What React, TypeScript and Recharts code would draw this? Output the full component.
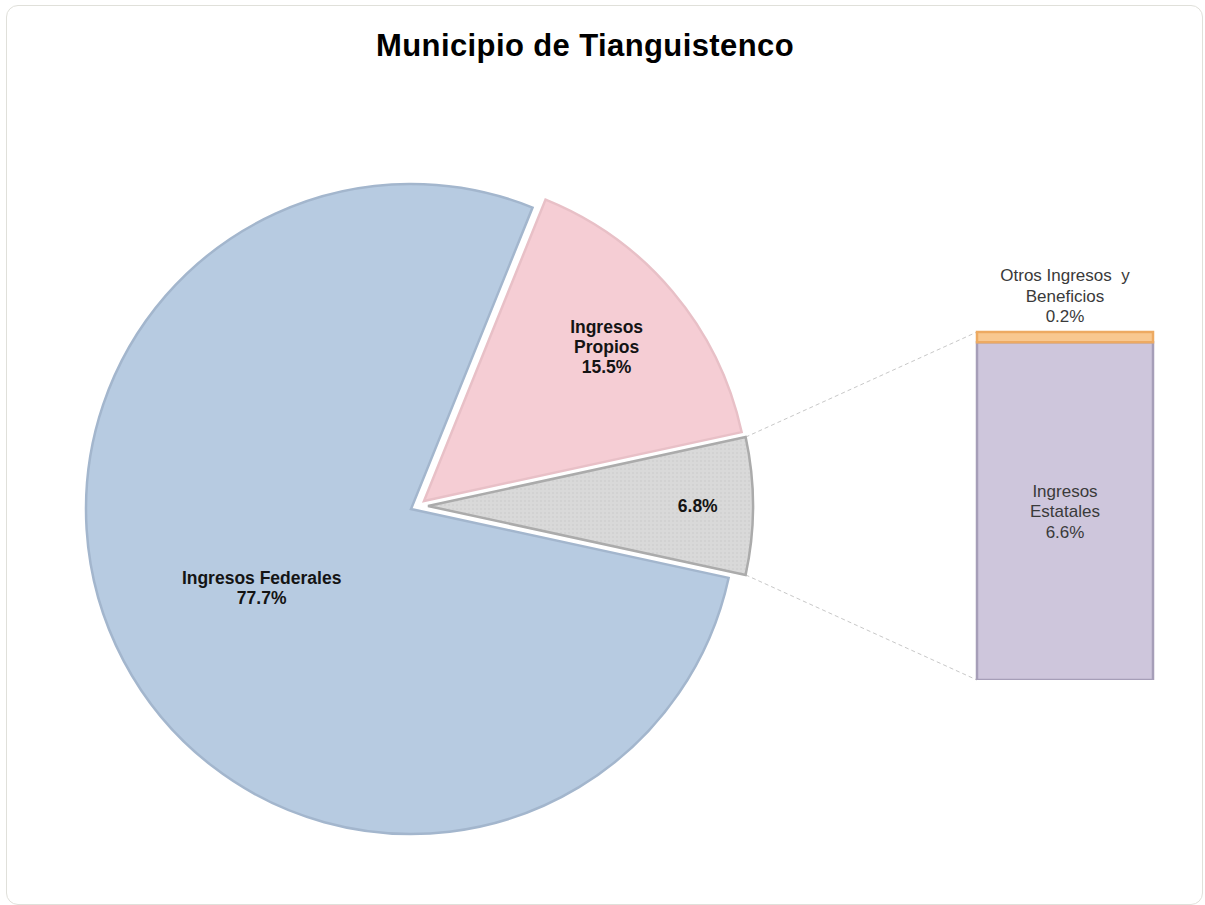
import React from 'react';
import { PieChart, Pie, Cell, BarChart, Bar, XAxis, YAxis, LabelList } from 'recharts';

// main pie: secondary (bar) slice first so it sits centred on the right
const pieNames = ['Ingresos Estatales y Otros', 'Ingresos Propios', 'Ingresos Federales'];
const pieValues = [6.8, 15.5, 77.7];
const pieLabelLines = [[], ['Ingresos', 'Propios'], ['Ingresos Federales']];

// breakdown bar of the secondary slice (bottom to top)
const barNames = ['Ingresos Estatales', 'Otros Ingresos  y Beneficios'];
const barValues = [6.6, 0.2];
const barLabelLines = [['Ingresos', 'Estatales'], ['Otros Ingresos  y', 'Beneficios']];

const TITLE = 'Municipio de Tianguistenco';

const W = 1205;
const H = 905;
const R = 325;
// each slice drawn around its own (exploded) centre
const CENTERS = [
  { x: 428, y: 506 },
  { x: 424, y: 501 },
  { x: 411, y: 509 },
];
const LABEL_RADIUS = [0.83, 0.735, 0.52];
const FILLS = ['url(#grayDots) #D9D9D9', '#F5CDD4', '#B7CBE1'];
const STROKES = ['#ABABAB', '#E8C0C7', '#A3B6CD'];

const BAR_BOX = { left: 940, top: 262, width: 250, height: 418, margin: { top: 70, right: 37, bottom: 0, left: 37 } };
const BAR_FILLS = ['#CEC6DC', '#F8C890'];
const BAR_STROKES = ['#A69EB8', '#EDAA62'];

const RAD = Math.PI / 180;
const pieData = pieNames.map((name, i) => ({ name, value: pieValues[i] }));
const pieTotal = pieValues.reduce((a, b) => a + b, 0);
const halfAngle = (pieValues[0] / pieTotal) * 180;
const START = -halfAngle;

const barRow: Record<string, string | number> = { name: 'Secundario' };
barNames.forEach((n, i) => {
  barRow[`s${i}`] = barValues[i];
});
const barData = [barRow];
const barTotal = barValues.reduce((a, b) => a + b, 0);

const fmt = (v: number) => `${v.toFixed(1)}%`;

function makePieLabel(k: number) {
  return (p: any) => {
    if (p.index !== k) return null;
    const cx = p.cx ?? CENTERS[k].x;
    const cy = p.cy ?? CENTERS[k].y;
    const r = (p.outerRadius ?? R) * LABEL_RADIUS[k];
    const x = cx + r * Math.cos(-p.midAngle * RAD);
    const y = cy + r * Math.sin(-p.midAngle * RAD);
    const lines = [...pieLabelLines[k], fmt(pieValues[k])];
    const lh = 20;
    const y0 = y - ((lines.length - 1) * lh) / 2;
    return (
      <text
        key={`pl-${k}`}
        x={x}
        y={y0}
        textAnchor="middle"
        dominantBaseline="central"
        fill="#141414"
        fontFamily="'Liberation Sans', Arial, sans-serif"
        fontWeight="bold"
        fontSize={17.5}
      >
        {lines.map((t, j) => (
          <tspan key={j} x={x} y={y0 + j * lh}>
            {t}
          </tspan>
        ))}
      </text>
    );
  };
}

function makeBarLabel(i: number) {
  return (p: any) => {
    const x = Number(p.x) + Number(p.width) / 2;
    const lines = [...barLabelLines[i], fmt(barValues[i])];
    const lh = 20.5;
    const y0 = i === 0 ? Number(p.y) + Number(p.height) / 2 - lh : Number(p.y) - 57;
    return (
      <text
        x={x}
        y={y0}
        textAnchor="middle"
        dominantBaseline="central"
        fill="#3A3A3A"
        fontFamily="'Liberation Sans', Arial, sans-serif"
        fontSize={17}
        style={{ whiteSpace: 'pre' }}
      >
        {lines.map((t, j) => (
          <tspan key={j} x={x} y={y0 + j * lh}>
            {t}
          </tspan>
        ))}
      </text>
    );
  };
}

export default function App() {
  const g = CENTERS[0];
  const cornerTop = { x: g.x + R * Math.cos(halfAngle * RAD), y: g.y - R * Math.sin(halfAngle * RAD) };
  const cornerBot = { x: g.x + R * Math.cos(halfAngle * RAD), y: g.y + R * Math.sin(halfAngle * RAD) };
  const barLeft = BAR_BOX.left + BAR_BOX.margin.left;
  const barTop = BAR_BOX.top + BAR_BOX.margin.top;
  const barBottom = BAR_BOX.top + BAR_BOX.height - BAR_BOX.margin.bottom;

  return (
    <div style={{ position: 'absolute', left: 0, top: 0, width: W, height: H, background: '#fff', overflow: 'hidden' }}>
      <div
        style={{
          position: 'absolute',
          left: 6,
          top: 5,
          width: 1197,
          height: 900,
          border: '1px solid #E0E0DA',
          borderRadius: 12,
          boxSizing: 'border-box',
        }}
      />
      <svg width={W} height={H} style={{ position: 'absolute', left: 0, top: 0 }}>
        <defs>
          <pattern id="grayDots" width="4" height="4" patternUnits="userSpaceOnUse">
            <rect width="4" height="4" fill="#D9D9D9" />
            <circle cx="1" cy="1" r="0.7" fill="#C6C6C6" />
          </pattern>
        </defs>
        <text
          x={585}
          y={45}
          textAnchor="middle"
          dominantBaseline="central"
          fontFamily="'Liberation Sans', Arial, sans-serif"
          fontWeight="bold"
          fontSize={31}
          letterSpacing={0.4}
          fill="#000"
        >
          {TITLE}
        </text>
        <line x1={cornerTop.x} y1={cornerTop.y} x2={barLeft} y2={barTop} stroke="#C8C8C8" strokeDasharray="4 3" />
        <line x1={cornerBot.x} y1={cornerBot.y} x2={barLeft} y2={barBottom} stroke="#C8C8C8" strokeDasharray="4 3" />
      </svg>
      <div style={{ position: 'absolute', left: 0, top: 0 }}>
        <PieChart width={W} height={H} margin={{ top: 0, right: 0, bottom: 0, left: 0 }}>
          {pieNames.map((_, k) => (
            <Pie
              key={k}
              data={pieData}
              dataKey="value"
              nameKey="name"
              cx={CENTERS[k].x}
              cy={CENTERS[k].y}
              outerRadius={R}
              startAngle={START}
              endAngle={START + 360}
              isAnimationActive={false}
              labelLine={false}
              label={makePieLabel(k)}
            >
              {pieData.map((_d, i) => (
                <Cell
                  key={i}
                  fill={i === k ? FILLS[i] : 'transparent'}
                  stroke={i === k ? STROKES[i] : 'none'}
                  strokeWidth={i === k ? 2.5 : 0}
                />
              ))}
            </Pie>
          ))}
        </PieChart>
      </div>
      <div style={{ position: 'absolute', left: BAR_BOX.left, top: BAR_BOX.top }}>
        <BarChart
          width={BAR_BOX.width}
          height={BAR_BOX.height}
          data={barData}
          margin={BAR_BOX.margin}
          barCategoryGap={0}
        >
          <XAxis dataKey="name" hide />
          <YAxis hide domain={[0, barTotal]} />
          {barNames.map((n, i) => (
            <Bar
              key={n}
              dataKey={`s${i}`}
              name={n}
              stackId="a"
              fill={BAR_FILLS[i]}
              stroke={BAR_STROKES[i]}
              strokeWidth={2.5}
              isAnimationActive={false}
            >
              <LabelList dataKey={`s${i}`} content={makeBarLabel(i)} />
            </Bar>
          ))}
        </BarChart>
      </div>
    </div>
  );
}
